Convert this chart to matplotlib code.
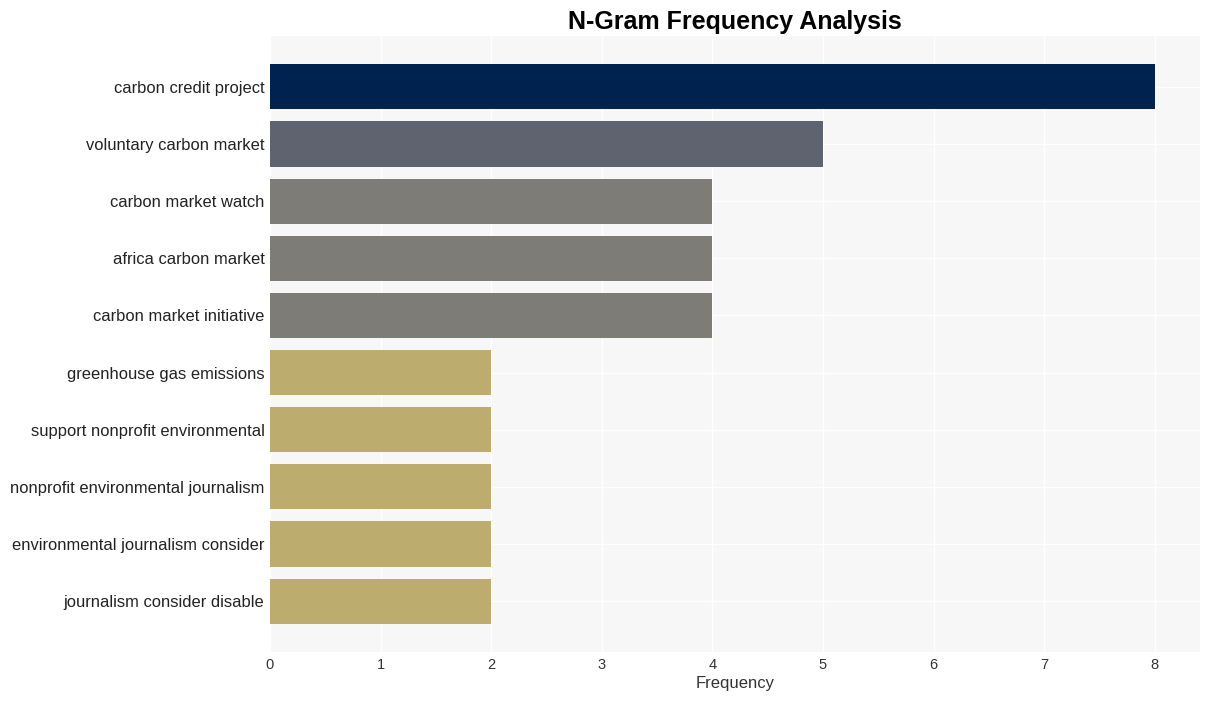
import matplotlib
matplotlib.use("Agg")
import matplotlib.pyplot as plt

plt.rcParams['font.family'] = ['Liberation Sans', 'DejaVu Sans']

# data
ngrams = [
    "carbon credit project",
    "voluntary carbon market",
    "carbon market watch",
    "africa carbon market",
    "carbon market initiative",
    "greenhouse gas emissions",
    "support nonprofit environmental",
    "nonprofit environmental journalism",
    "environmental journalism consider",
    "journalism consider disable",
]
counts = [8, 5, 4, 4, 4, 2, 2, 2, 2, 2]
bar_colors = ["#00224e", "#5f6370", "#7d7c76", "#7d7c76", "#7d7c76",
              "#bcad6e", "#bcad6e", "#bcad6e", "#bcad6e", "#bcad6e"]
x_ticks = [0, 1, 2, 3, 4, 5, 6, 7, 8]

fig = plt.figure(figsize=(12.09, 7.01), dpi=100)
ax = fig.add_axes([0.2233, 0.0699, 0.7693, 0.8787])
ax.set_facecolor("#f7f7f7")

ypos = list(range(len(ngrams)))
ax.barh(ypos, counts, height=0.79, color=bar_colors, zorder=2)

ax.set_yticks(ypos)
ax.set_yticklabels(ngrams, fontsize=11.9, color="#222222")
ax.set_xticks(x_ticks)
ax.set_xticklabels([str(t) for t in x_ticks], fontsize=10.5, color="#333333")
ax.set_xlim(0, 8.41)
ax.set_ylim(9.89, -0.89)

ax.grid(True, color="white", linewidth=1.0, zorder=0)
ax.set_axisbelow(True)
for s in ax.spines.values():
    s.set_visible(False)
ax.tick_params(axis="y", length=0, pad=4)
ax.tick_params(axis="x", length=0, pad=4)

ax.set_xlabel("Frequency", fontsize=12, color="#333333", labelpad=3)
fig.suptitle("N-Gram Frequency Analysis", x=0.608, y=0.986,
             fontsize=18, fontweight="bold")

fig.savefig("out.png", dpi=100)
